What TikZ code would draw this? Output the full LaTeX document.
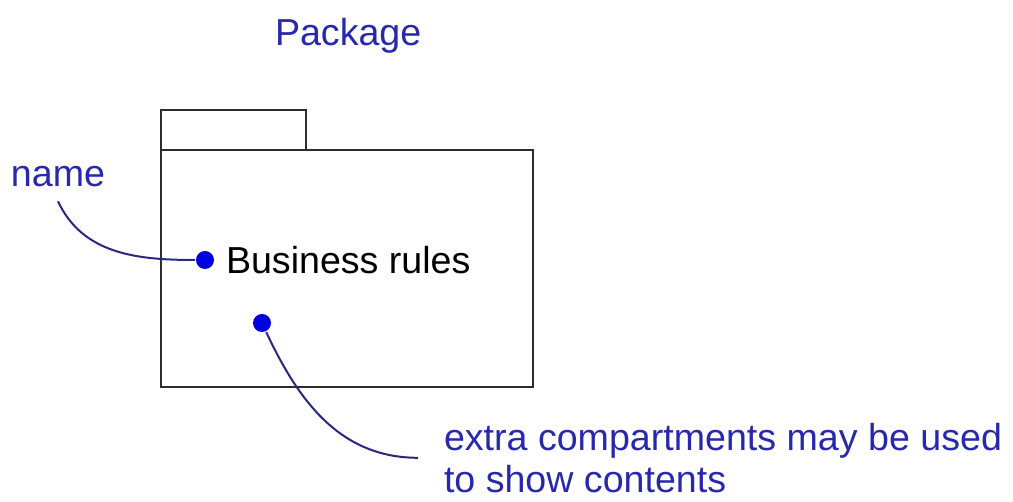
\documentclass[tikz,border=0pt]{standalone}
\usepackage{fontspec}
\setmainfont{Liberation Sans}
\usetikzlibrary{positioning}
\definecolor{notetext}{RGB}{40,40,175}
\definecolor{noteline}{RGB}{40,40,130}
\definecolor{notedot}{RGB}{0,0,225}
\definecolor{pkgline}{RGB}{45,45,45}
\tikzset{every picture/.style={line width=2pt}}

\begin{document}
\begin{tikzpicture}[x=1pt,y=1pt,
    notelabel/.style={text=notetext, inner sep=0pt, font=\fontsize{37.6}{42}\selectfont},
    notedotstyle/.style={circle, fill=notedot, inner sep=0pt, minimum size=18pt},
    noteconn/.style={draw=noteline, line width=2pt},
    pkgbox/.style={draw=pkgline, line width=2.5pt, inner sep=0pt, outer sep=0pt}]
    \useasboundingbox (0,0) rectangle (1013,502);
    % package symbol
    \node[pkgbox, minimum width=372pt, minimum height=237pt] (pkg) at (347,233.5) {};
    \node[pkgbox, minimum width=145pt, minimum height=40pt, anchor=south west] (tab) at (pkg.north west) {};
    \node[notelabel, anchor=base west] (title) at (274,456) {Package};
    % package name
    \node[notedotstyle] (namedot) at (205,242) {};
    \node[notelabel, text=black, right=10pt of namedot] (pkgname) {Business rules};
    \node[notelabel] (name) at (58,325) {name};
    \draw[noteconn] ([yshift=-13pt]name.south) to[out=-65, in=180] (namedot);
    % contents
    \node[notedotstyle] (contdot) at (262,179) {};
    \node[notelabel, align=left, anchor=north west] (extra) at (443,80) {extra compartments may be used\\to show contents};
    \draw[noteconn] (contdot) to[out=-65, in=180] ([xshift=-25pt]extra.west);
\end{tikzpicture}
\end{document}
